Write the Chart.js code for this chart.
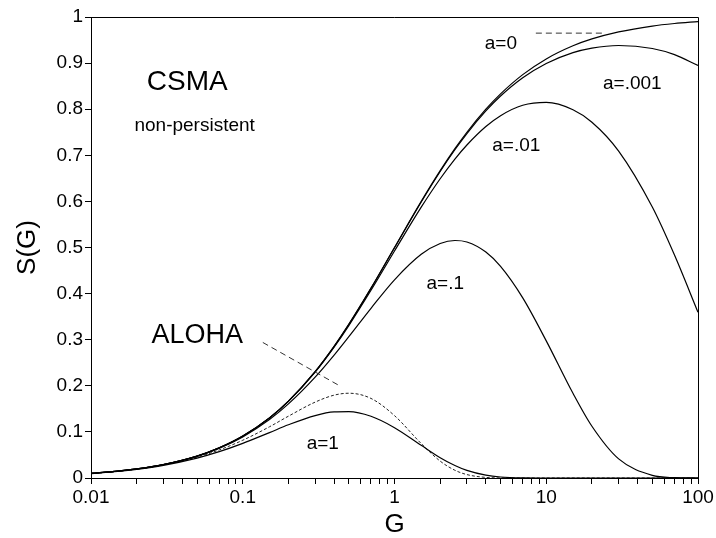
<!DOCTYPE html>
<html>
<head>
<meta charset="utf-8">
<script src="https://cdn.jsdelivr.net/npm/chart.js@4.4.1/dist/chart.umd.min.js"></script>
<style>
  html, body { margin: 0; padding: 0; background: #fff; }
  #wrap { width: 716px; height: 538px; }
</style>
</head>
<body>
<div id="wrap"><canvas id="myChart"></canvas></div>
<script>
// offered load G (log axis)
const G = [0.01, 0.015, 0.02, 0.03, 0.05, 0.07, 0.1, 0.15, 0.2, 0.3, 0.4, 0.5, 0.7,
  1, 1.5, 2, 2.5, 3, 4, 5, 7, 10, 15, 20, 30, 50, 70, 100];

// throughput S(G)
const s_a0 = [0.0099, 0.0148, 0.0196, 0.0291, 0.0476, 0.0654, 0.0909, 0.1304, 0.1667, 0.2308, 0.2857, 0.3333, 0.4118,
  0.5, 0.6, 0.6667, 0.7143, 0.75, 0.8, 0.8333, 0.875, 0.9091, 0.9375, 0.9524, 0.9677, 0.9804, 0.9859, 0.9901];
const s_a001 = [0.0099, 0.0148, 0.0196, 0.0291, 0.0476, 0.0654, 0.0909, 0.1304, 0.1666, 0.2307, 0.2855, 0.3331, 0.4113,
  0.4993, 0.5987, 0.6649, 0.712, 0.7472, 0.7962, 0.8285, 0.8681, 0.8992, 0.9227, 0.9326, 0.9382, 0.9317, 0.9183, 0.895];
const s_a01 = [0.0099, 0.0148, 0.0196, 0.0291, 0.0476, 0.0653, 0.0907, 0.1301, 0.1661, 0.2295, 0.2838, 0.3306, 0.4072,
  0.4925, 0.5875, 0.6491, 0.6917, 0.7223, 0.7624, 0.786, 0.8085, 0.8148, 0.7989, 0.7717, 0.7091, 0.5877, 0.4835, 0.3594];
const s_a_1 = [0.0099, 0.0147, 0.0195, 0.029, 0.0472, 0.0645, 0.0892, 0.1268, 0.1607, 0.2188, 0.2667, 0.3066, 0.3682,
  0.4299, 0.4852, 0.5087, 0.5152, 0.512, 0.4902, 0.459, 0.3907, 0.2975, 0.1837, 0.1122, 0.0414, 0.0056, 0.0008, 0];
const s_a1 = [0.0097, 0.0143, 0.0188, 0.0275, 0.0432, 0.0571, 0.0751, 0.0985, 0.1154, 0.1354, 0.1434, 0.144, 0.1339,
  0.1092, 0.0709, 0.0441, 0.0271, 0.0165, 0.0061, 0.0022, 0.0003, 0, 0, 0, 0, 0, 0, 0];
const s_aloha = [0.0098, 0.0146, 0.0192, 0.0283, 0.0452, 0.0609, 0.0819, 0.1111, 0.1341, 0.1646, 0.1797, 0.1839, 0.1726,
  0.1353, 0.0747, 0.0366, 0.0168, 0.0074, 0.0013, 0.0002, 0, 0, 0, 0, 0, 0, 0, 0];

const xMajor = [0.01, 0.1, 1, 10, 100];
const xTickLabels = ['0.01', '0.1', '1', '10', '100'];

const FONT = "'Liberation Sans', Arial, sans-serif";

function pts(ys) {
  return G.map((g, i) => ({ x: g, y: ys[i] }));
}

function curve(label, ys, dashed) {
  return {
    label: label,
    data: pts(ys),
    borderColor: dashed ? '#222' : '#000',
    borderWidth: dashed ? 1 : 1.2,
    borderDash: dashed ? [3, 2] : [],
    pointRadius: 0,
    fill: false,
    cubicInterpolationMode: 'monotone'
  };
}

// text and leader lines on top of the plot (positions in data units)
const notes = [
  { text: 'CSMA', g: 0.0431, s: 0.858, size: 28 },
  { text: 'non-persistent', g: 0.0482, s: 0.765, size: 19 },
  { text: 'a=0', g: 5.02, s: 0.943, size: 19 },
  { text: 'a=.001', g: 36.9, s: 0.856, size: 19 },
  { text: 'a=.01', g: 6.35, s: 0.721, size: 19 },
  { text: 'a=.1', g: 2.16, s: 0.422, size: 19 },
  { text: 'ALOHA', g: 0.0501, s: 0.31, size: 27 },
  { text: 'a=1', g: 0.337, s: 0.075, size: 19 }
];
const leaders = [
  [[8.54, 0.965], [23.97, 0.965]],
  [[0.1356, 0.294], [0.4296, 0.201]]
];

const overlay = {
  id: 'overlay',
  afterDraw(chart) {
    const ctx = chart.ctx;
    const a = chart.chartArea;
    const x = chart.scales.x, y = chart.scales.y;
    ctx.save();
    // top and right frame
    ctx.strokeStyle = '#000';
    ctx.lineWidth = 1;
    ctx.beginPath();
    ctx.moveTo(a.left, Math.round(a.top) + 0.5);
    ctx.lineTo(Math.round(a.right) + 0.5, Math.round(a.top) + 0.5);
    ctx.lineTo(Math.round(a.right) + 0.5, a.bottom);
    ctx.stroke();

    // leader lines
    ctx.strokeStyle = '#333';
    ctx.setLineDash([6, 4]);
    leaders.forEach(function (l) {
      ctx.beginPath();
      ctx.moveTo(x.getPixelForValue(l[0][0]), y.getPixelForValue(l[0][1]));
      ctx.lineTo(x.getPixelForValue(l[1][0]), y.getPixelForValue(l[1][1]));
      ctx.stroke();
    });
    ctx.setLineDash([]);

    ctx.fillStyle = '#000';
    ctx.textAlign = 'center';
    ctx.textBaseline = 'middle';
    notes.forEach(function (n) {
      ctx.font = n.size + 'px ' + FONT;
      ctx.fillText(n.text, x.getPixelForValue(n.g), y.getPixelForValue(n.s));
    });

    // axis titles
    ctx.font = '26px ' + FONT;
    ctx.fillText('G', (a.left + a.right) / 2, 525);
    ctx.translate(28, (a.top + a.bottom) / 2);
    ctx.rotate(-Math.PI / 2);
    ctx.fillText('S(G)', 0, 0);
    ctx.restore();
  }
};

const config = {
  type: 'line',
  data: {
    datasets: [
      curve('a=0', s_a0),
      curve('a=.001', s_a001),
      curve('a=.01', s_a01),
      curve('a=.1', s_a_1),
      curve('a=1', s_a1),
      curve('ALOHA', s_aloha, true)
    ]
  },
  options: {
    animation: false,
    responsive: true,
    maintainAspectRatio: false,
    layout: { padding: { top: 17, right: 18, left: 0, bottom: 0 } },
    plugins: { legend: { display: false }, tooltip: { enabled: false } },
    scales: {
      x: {
        type: 'logarithmic',
        min: 0.01,
        max: 100,
        afterBuildTicks: function (scale) {
          const t = [];
          xMajor.forEach(function (m, i) {
            if (i === xMajor.length - 1) { t.push({ value: m }); return; }
            for (let k = 1; k <= 9; k++) t.push({ value: +(m * k).toPrecision(3) });
          });
          scale.ticks = t;
        },
        afterFit: function (scale) { scale.height = 60; },
        ticks: {
          autoSkip: false,
          maxRotation: 0,
          padding: 2,
          color: '#000',
          font: { family: FONT, size: 19 },
          callback: function (v) {
            const i = xMajor.findIndex(m => Math.abs(m - v) < m * 1e-6);
            return i >= 0 ? xTickLabels[i] : '';
          }
        },
        grid: { drawOnChartArea: false, drawTicks: true, tickLength: 6, color: '#000' },
        border: { display: true, color: '#000', width: 1 }
      },
      y: {
        min: 0,
        max: 1,
        afterFit: function (scale) { scale.width = 91; },
        ticks: {
          stepSize: 0.1,
          padding: 2,
          color: '#000',
          font: { family: FONT, size: 19 },
          callback: function (v) {
            const r = Math.round(v * 10) / 10;
            return r === 0 ? '0' : (r === 1 ? '1' : r.toFixed(1));
          }
        },
        grid: { drawOnChartArea: false, drawTicks: true, tickLength: 6, color: '#000' },
        border: { display: true, color: '#000', width: 1 }
      }
    }
  },
  plugins: [overlay]
};

var myChart = new Chart(document.getElementById('myChart'), config);
</script>
</body>
</html>
